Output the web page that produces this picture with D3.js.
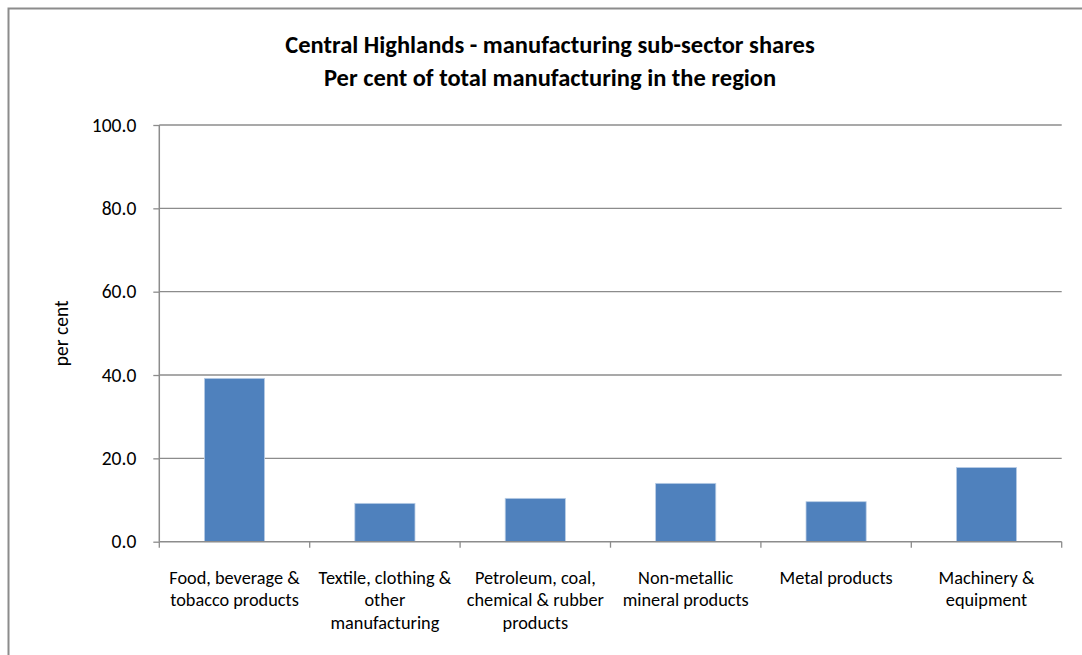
<!DOCTYPE html>
<html>
<head>
<meta charset="utf-8">
<script src="https://cdn.jsdelivr.net/npm/d3@7"></script>
<style>
  html, body { margin: 0; padding: 0; background: #fff; }
  svg { display: block; }
  text { font-family: Carlito, Calibri, Lato, "Open Sans", sans-serif; fill: #000; }
</style>
</head>
<body>
<svg id="chart" width="1082" height="655"></svg>
<script>
const titleLines = ["Central Highlands - manufacturing sub-sector shares", "Per cent of total manufacturing in the region"];
const categories = [
  ["Food, beverage &", "tobacco products"],
  ["Textile, clothing &", "other", "manufacturing"],
  ["Petroleum, coal,", "chemical & rubber", "products"],
  ["Non-metallic", "mineral products"],
  ["Metal products"],
  ["Machinery &", "equipment"]
];
const values = [39.2, 9.2, 10.4, 14.0, 9.6, 17.8];
const yTicks = [0, 20, 40, 60, 80, 100];
const yLabel = "per cent";

const svg = d3.select("#chart");
const margin = { left: 159.3, right: 1082 - 1061.7, top: 125, bottom: 655 - 541.7 };
const W = 1082, H = 655;

// outer chart border
svg.append("rect").attr("x", 8.5).attr("y", 8.5).attr("width", 1090).attr("height", 700)
  .attr("fill", "none").attr("stroke", "#8c8c8c").attr("stroke-width", 2);

const x = d3.scaleBand().domain(d3.range(categories.length))
  .range([margin.left, W - margin.right]).paddingInner(0.6).paddingOuter(0.3);
const xOuter = d3.scaleBand().domain(d3.range(categories.length))
  .range([margin.left, W - margin.right]).padding(0);
const y = d3.scaleLinear().domain([0, 100]).range([H - margin.bottom, margin.top]);

// gridlines
svg.append("g").selectAll("line").data(yTicks.filter(d => d > 0)).join("line")
  .attr("x1", margin.left).attr("x2", W - margin.right)
  .attr("y1", d => y(d)).attr("y2", d => y(d))
  .attr("stroke", "#8c8c8c").attr("stroke-width", 1.3);

// bars
svg.append("g").selectAll("rect").data(values).join("rect")
  .attr("x", (d, i) => x(i)).attr("width", x.bandwidth())
  .attr("y", d => y(d)).attr("height", d => y(0) - y(d))
  .attr("fill", "#4f81bd").attr("stroke", "#b9cde5").attr("stroke-width", 0.8);

// y axis
const yAxis = d3.axisLeft(y).tickValues(yTicks).tickFormat(d3.format(".1f")).tickSize(6).tickPadding(17);
const gy = svg.append("g").attr("transform", `translate(${margin.left},0)`).call(yAxis);
gy.select(".domain").attr("stroke", "#8c8c8c").attr("stroke-width", 1.5).attr("d", `M0,${y(100)}V${y(0)}`);
gy.selectAll(".tick line").attr("stroke", "#8c8c8c").attr("stroke-width", 1.3);
gy.selectAll(".tick text").attr("font-size", 19.5).attr("font-family", "Carlito, Calibri, Lato, sans-serif").attr("fill", "#000");

// x axis
const xAxis = d3.axisBottom(xOuter).tickValues([]).tickSize(0);
const gx = svg.append("g").attr("transform", `translate(0,${y(0)})`).call(xAxis);
gx.select(".domain").attr("stroke", "#8c8c8c").attr("stroke-width", 1.5).attr("d", `M${margin.left},0H${W - margin.right}`);
const boundaries = d3.range(categories.length + 1).map(i => i < categories.length ? xOuter(i) : xOuter(i - 1) + xOuter.bandwidth());
gx.selectAll(".xtick").data(boundaries).join("line").attr("class", "xtick")
  .attr("x1", d => d).attr("x2", d => d).attr("y1", 0).attr("y2", 6)
  .attr("stroke", "#8c8c8c").attr("stroke-width", 1.3);

// category labels
const lab = svg.append("g").selectAll("text").data(categories).join("text")
  .attr("text-anchor", "middle").attr("font-size", 18.3)
  .attr("transform", (d, i) => `translate(${xOuter(i) + xOuter.bandwidth() / 2},${584})`);
lab.selectAll("tspan").data(d => d).join("tspan")
  .attr("x", 0).attr("dy", (d, i) => i === 0 ? 0 : 22.4).text(d => d);

// y label
svg.append("text").attr("transform", `translate(68,${(y(0) + y(100)) / 2}) rotate(-90)`)
  .attr("text-anchor", "middle").attr("font-size", 19.5).text(yLabel);

// title
svg.append("g").selectAll("text").data(titleLines).join("text")
  .attr("x", 550).attr("y", (d, i) => 53 + i * 33)
  .attr("text-anchor", "middle").attr("font-size", 24.5).attr("font-weight", "bold").text(d => d);
</script>
</body>
</html>
